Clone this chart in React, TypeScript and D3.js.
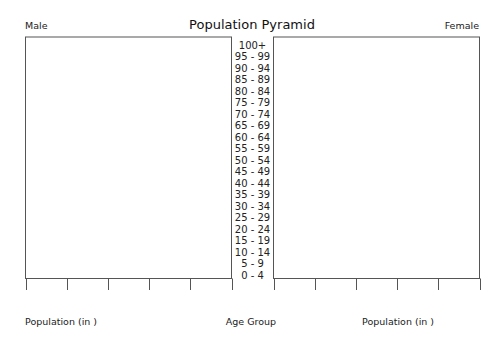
import React from "react";
import * as d3 from "d3";

const ageGroups = [
  "0 - 4", "5 - 9", "10 - 14", "15 - 19", "20 - 24", "25 - 29", "30 - 34",
  "35 - 39", "40 - 44", "45 - 49", "50 - 54", "55 - 59", "60 - 64", "65 - 69",
  "70 - 74", "75 - 79", "80 - 84", "85 - 89", "90 - 94", "95 - 99", "100+",
];
const malePopulation: number[] = ageGroups.map(() => 0);
const femalePopulation: number[] = ageGroups.map(() => 0);
const populationTicks = [0, 1, 2, 3, 4, 5];

const W = 500;
const H = 354;
const top = 37;
const bottom = 278.5;
const leftX0 = 25.5;
const leftX1 = 231.5;
const rightX0 = 273.5;
const rightX1 = 479.5;
const font = "DejaVu Sans, sans-serif";
const stroke = "#555";

export default function App() {
  const y = d3
    .scaleBand<string>()
    .domain([...ageGroups].reverse())
    .range([top, bottom]);
  const xLeft = d3.scaleLinear().domain([5, 0]).range([leftX0, leftX1]);
  const xRight = d3.scaleLinear().domain([0, 5]).range([rightX0, rightX1]);

  return (
    <svg
      width={W}
      height={H}
      style={{ position: "absolute", left: 0, top: 0, background: "#fff" }}
      fontFamily={font}
    >
      <text x={252} y={29} textAnchor="middle" fontSize={13} fill="#111">
        Population Pyramid
      </text>
      <text x={25} y={29} fontSize={9.5} fill="#222">Male</text>
      <text x={479} y={29} textAnchor="end" fontSize={9.5} fill="#222">Female</text>

      {/* bars */}
      {ageGroups.map((g, i) => (
        <rect
          key={"m" + g}
          x={xLeft(malePopulation[i])}
          y={y(g)!}
          width={leftX1 - xLeft(malePopulation[i])}
          height={y.bandwidth()}
          fill="#4682b4"
        />
      ))}
      {ageGroups.map((g, i) => (
        <rect
          key={"f" + g}
          x={rightX0}
          y={y(g)!}
          width={xRight(femalePopulation[i]) - rightX0}
          height={y.bandwidth()}
          fill="#d9534f"
        />
      ))}

      {/* frames */}
      <rect x={leftX0} y={top} width={leftX1 - leftX0} height={bottom - top} fill="none" stroke={stroke} strokeWidth={1} />
      <rect x={rightX0} y={top} width={rightX1 - rightX0} height={bottom - top} fill="none" stroke={stroke} strokeWidth={1} />

      {/* ticks */}
      {populationTicks.map((t) => (
        <line key={"lt" + t} x1={Math.round(xLeft(t)) + 0.5} x2={Math.round(xLeft(t)) + 0.5} y1={bottom} y2={290} stroke={stroke} />
      ))}
      {populationTicks.map((t) => (
        <line key={"rt" + t} x1={Math.round(xRight(t)) + 0.5} x2={Math.round(xRight(t)) + 0.5} y1={bottom} y2={290} stroke={stroke} />
      ))}

      {/* age labels */}
      {ageGroups.map((g) => (
        <text
          key={"a" + g}
          x={252.5}
          y={y(g)! + y.bandwidth() / 2 + 6}
          textAnchor="middle"
          fontSize={10}
          fill="#222"
        >
          {g}
        </text>
      ))}

      <text x={25} y={325} fontSize={9.5} fill="#222">Population (in )</text>
      <text x={251} y={325} textAnchor="middle" fontSize={9.5} fill="#222">Age Group</text>
      <text x={362} y={325} fontSize={9.5} fill="#222">Population (in )</text>
    </svg>
  );
}
